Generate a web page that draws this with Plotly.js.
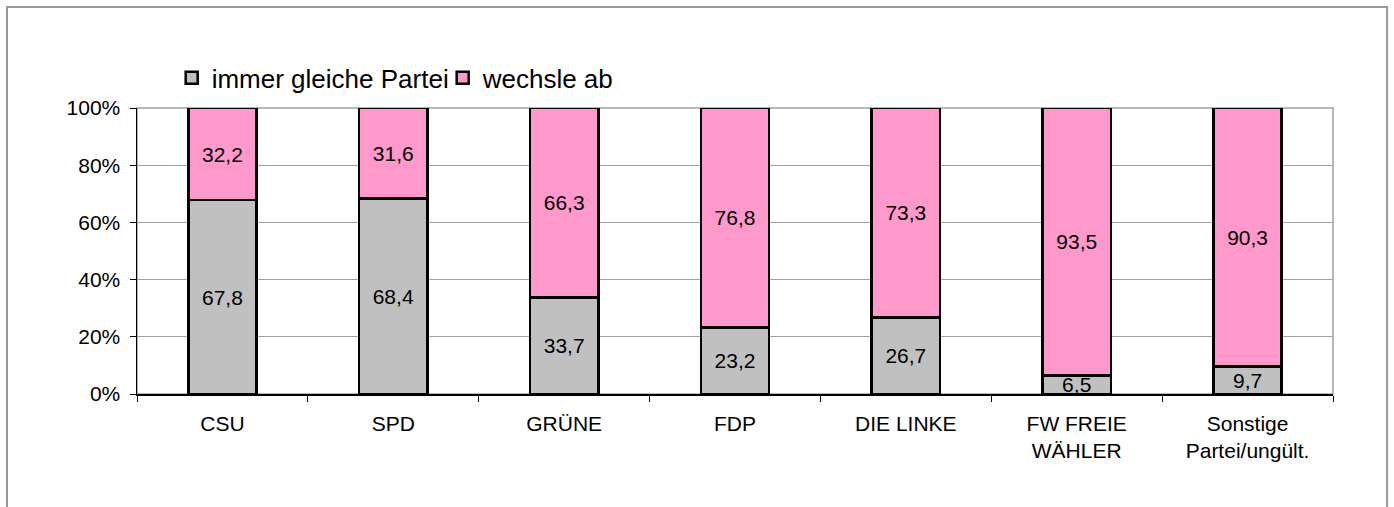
<!DOCTYPE html>
<html>
<head>
<meta charset="utf-8">
<script src="https://cdn.plot.ly/plotly-3.0.1.min.js"></script>
<style>
html,body{margin:0;padding:0;background:#fff;}
#chart{width:1394px;height:507px;}
</style>
</head>
<body>
<div id="chart"></div>
<script>
const categories = ["CSU", "SPD", "GRÜNE", "FDP", "DIE LINKE", "FW FREIE<br>WÄHLER", "Sonstige<br>Partei/ungült."];
const seriesNames = ["immer gleiche Partei", "wechsle ab"];
const immerGleiche = [67.8, 68.4, 33.7, 23.2, 26.7, 6.5, 9.7];
const wechsleAb = [32.2, 31.6, 66.3, 76.8, 73.3, 93.5, 90.3];
const yTickVals = [0, 20, 40, 60, 80, 100];
const yTickText = ["0%", "20%", "40%", "60%", "80%", "100%"];

const FONT = "Liberation Sans, Arial, sans-serif";

function barTrace(name, values, color) {
  return {
    type: "bar",
    name: name,
    x: categories,
    y: values,
    width: 0.4,
    marker: {color: color, line: {color: "#000000", width: 2.5}},
    texttemplate: "%{y:.1f}",
    textposition: "inside",
    insidetextanchor: "middle",
    constraintext: "none",
    textfont: {family: FONT, size: 21, color: "#000000"},
    hoverinfo: "none"
  };
}

const data = [
  barTrace(seriesNames[0], immerGleiche, "#C0C0C0"),
  barTrace(seriesNames[1], wechsleAb, "#FF99CC")
];

const layout = {
  width: 1394,
  height: 507,
  margin: {l: 137, r: 61, t: 108, b: 113, pad: 0},
  paper_bgcolor: "#ffffff",
  plot_bgcolor: "#ffffff",
  separators: ",.",
  barmode: "stack",
  showlegend: true,
  font: {family: FONT, size: 21, color: "#000000"},
  legend: {
    orientation: "h",
    x: 0.029, xanchor: "left",
    y: 1.105, yanchor: "middle",
    font: {family: FONT, size: 26, color: "#000000"},
    traceorder: "normal",
    entrywidth: 226,
    entrywidthmode: "pixels",
    bgcolor: "rgba(0,0,0,0)",
    itemclick: false
  },
  xaxis: {
    type: "category",
    showgrid: false,
    showline: true,
    linecolor: "#000000",
    linewidth: 1.5,
    ticks: "outside",
    tickson: "boundaries",
    ticklen: 6,
    tickcolor: "#000000",
    tickfont: {family: FONT, size: 21, color: "#000000"},
    ticklabelstandoff: 10,
    zeroline: false,
    fixedrange: true
  },
  yaxis: {
    range: [0, 100],
    tickvals: yTickVals,
    ticktext: yTickText,
    showgrid: true,
    gridcolor: "#a0a0a0",
    gridwidth: 1,
    showline: true,
    linecolor: "#000000",
    linewidth: 1.5,
    ticks: "outside",
    ticklen: 6,
    tickcolor: "#000000",
    tickfont: {family: FONT, size: 21, color: "#000000"},
    ticklabelstandoff: 5,
    zeroline: false,
    fixedrange: true
  },
  shapes: [
    {type: "rect", xref: "paper", yref: "paper", x0: 0, x1: 1, y0: 0, y1: 1,
     line: {color: "#a0a0a0", width: 1.5}, layer: "below"},
    {type: "path", xref: "paper", yref: "paper",
     path: "M -0.1087 -0.5 L -0.1087 1.3531 L 1.0452 1.3531 L 1.0452 -0.5",
     line: {color: "#999999", width: 2}, layer: "above"}
  ]
};

Plotly.newPlot("chart", data, layout, {staticPlot: true, displayModeBar: false});
</script>
</body>
</html>
